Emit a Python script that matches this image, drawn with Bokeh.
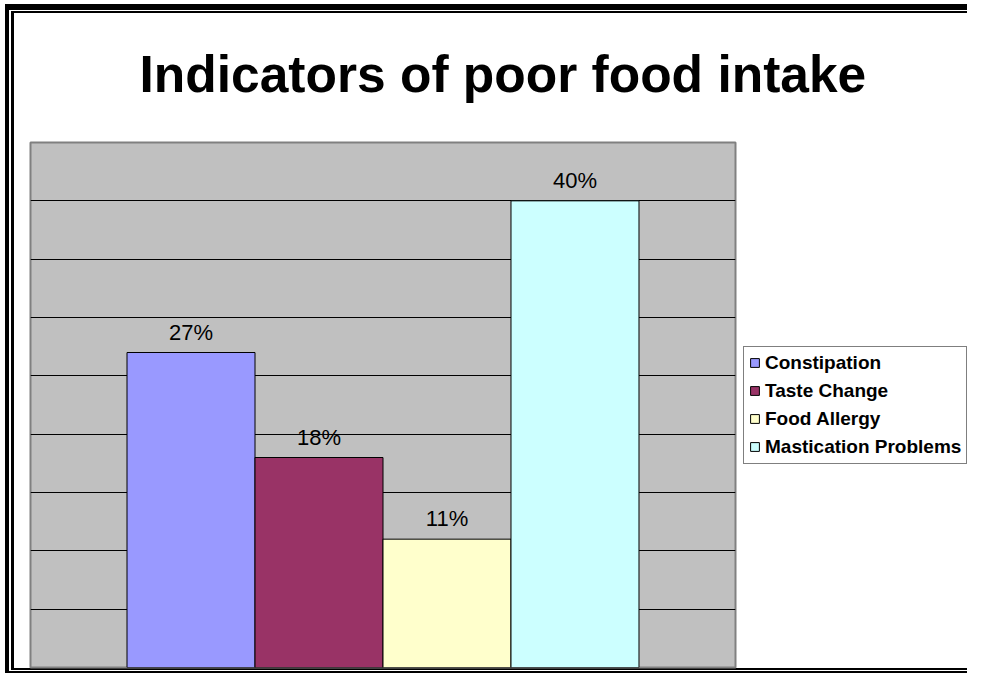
from bokeh.plotting import figure
from bokeh.models import (ColumnDataSource, Range1d, Grid, FixedTicker, Legend, LegendItem,
                          LabelSet, Title)
from bokeh.core.properties import value
from bokeh.embed import file_html
from bokeh.resources import INLINE

title_text = "Indicators of poor food intake"
categories = ["Constipation", "Taste Change", "Food Allergy", "Mastication Problems"]
values = [27, 18, 11, 40]
value_labels = ["27%", "18%", "11%", "40%"]
colors = ["#9999FF", "#993366", "#FFFFCC", "#CCFFFF"]
grid_ticks = [5, 10, 15, 20, 25, 30, 35, 40]

FONT = "Liberation Sans"
W, H = 967, 673

source = ColumnDataSource(dict(
    x=list(range(len(categories))),
    top=values,
    cat=categories,
    label=value_labels,
    color=colors,
))

# double frame lines drawn as CSS background rectangles (x, y, w, h)
rects = [(5, 4, W - 5, 6), (11, 11, W - 11, 2),
         (5, 4, 4, H - 4), (11, 11, 3, 659),
         (11, 668, W - 11, 2), (5, 671, W - 5, 2)]
styles = {
    "background-color": "white",
    "background-image": ", ".join(["linear-gradient(black, black)"] * len(rects)),
    "background-size": ", ".join(f"{w}px {h}px" for (x, y, w, h) in rects),
    "background-position": ", ".join(f"{x}px {y}px" for (x, y, w, h) in rects),
    "background-repeat": "no-repeat",
}

p = figure(frame_width=705, frame_height=525, output_backend="svg", toolbar_location=None,
           x_axis_type=None, y_axis_type=None,
           x_range=Range1d(-1.254, 4.254), y_range=Range1d(0, 45),
           min_border_left=30, min_border_right=232, min_border_top=142, min_border_bottom=6,
           styles=styles)
p.background_fill_color = "#C0C0C0"
p.border_fill_alpha = 0
p.outline_line_color = "#808080"
p.outline_line_width = 2
p.grid.visible = False

grid = Grid(dimension=1, ticker=FixedTicker(ticks=grid_ticks),
            grid_line_color="black", grid_line_width=1)
p.add_layout(grid)

bars = p.vbar(x="x", top="top", width=1.0, bottom=0, source=source,
              fill_color="color", line_color="black", line_width=1)

labels = LabelSet(x="x", y="top", text="label", source=source, y_offset=13,
                  text_align="center", text_baseline="alphabetic",
                  text_font=value(FONT), text_font_size=value("22px"), text_color=value("black"))
p.add_layout(labels)

items = [LegendItem(label=c, renderers=[bars], index=i) for i, c in enumerate(categories)]
legend = Legend(items=items, location="left", orientation="vertical",
                label_text_font=FONT, label_text_font_size="19px", label_text_font_style="bold",
                label_text_color="black", glyph_width=11, glyph_height=11,
                label_standoff=5, spacing=6, padding=5, margin=8,
                border_line_color="black", border_line_width=1,
                background_fill_color="white", background_fill_alpha=1.0)
p.add_layout(legend, "right")

title = Title(text=title_text, align="left", text_font=FONT, text_font_size="51.5px",
              text_font_style="bold", text_color="black", standoff=80, offset=109)
p.add_layout(title, "above")

open("out.html", "w").write(file_html(p, INLINE))
